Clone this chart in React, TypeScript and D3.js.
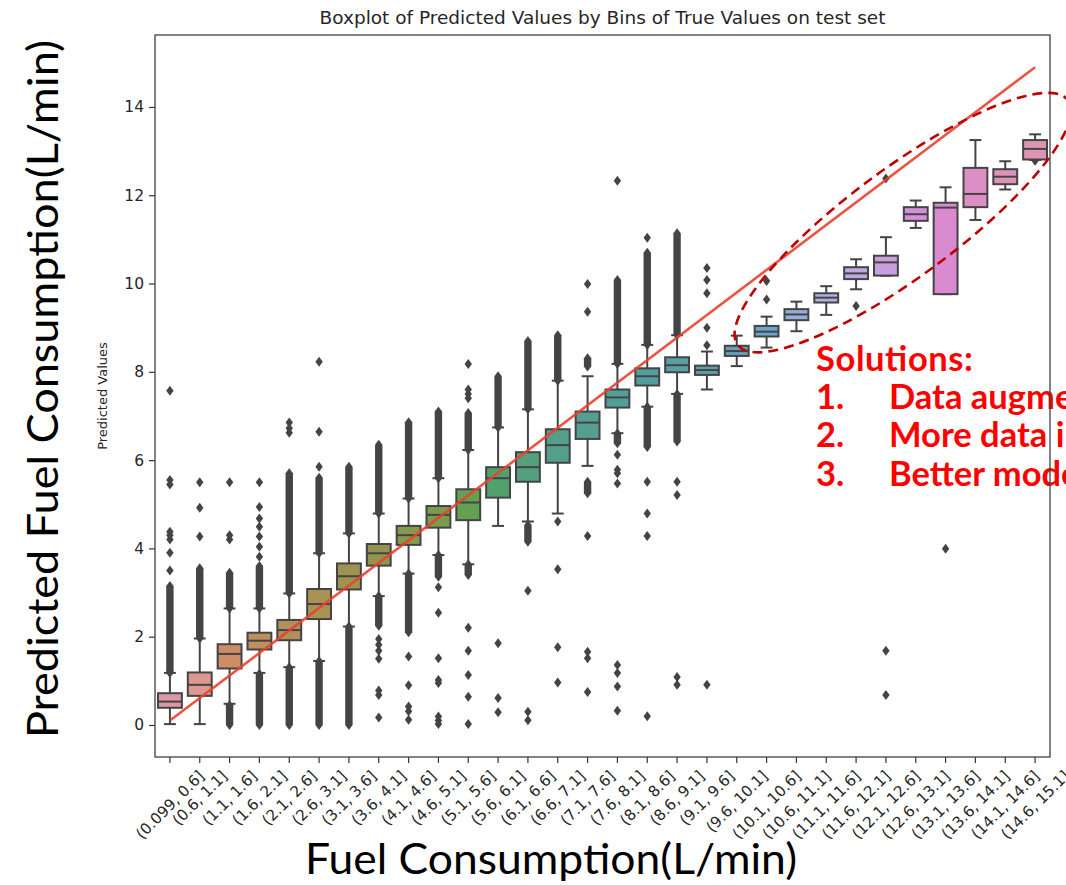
import React, { useEffect, useRef } from 'react';
import * as d3 from 'd3';

const BIN_LABELS = [
  '(0.099, 0.6]', '(0.6, 1.1]', '(1.1, 1.6]', '(1.6, 2.1]', '(2.1, 2.6]', '(2.6, 3.1]',
  '(3.1, 3.6]', '(3.6, 4.1]', '(4.1, 4.6]', '(4.6, 5.1]', '(5.1, 5.6]', '(5.6, 6.1]',
  '(6.1, 6.6]', '(6.6, 7.1]', '(7.1, 7.6]', '(7.6, 8.1]', '(8.1, 8.6]', '(8.6, 9.1]',
  '(9.1, 9.6]', '(9.6, 10.1]', '(10.1, 10.6]', '(10.6, 11.1]', '(11.1, 11.6]', '(11.6, 12.1]',
  '(12.1, 12.6]', '(12.6, 13.1]', '(13.1, 13.6]', '(13.6, 14.1]', '(14.1, 14.6]', '(14.6, 15.1]',
];

const WHISKER_LOW = [0.02, 0.02, 0.48, 1.18, 1.31, 1.45, 2.23, 2.92, 3.43, 3.85, 3.64, 4.51, 4.61, 4.79, 5.87,
  6.61, 7.21, 7.5, 7.6, 8.13, 8.55, 8.92, 9.29, 9.87, 10.18, 11.26, 9.76, 11.44, 12.13, 12.8];
const Q1 = [0.39, 0.66, 1.28, 1.71, 1.92, 2.4, 3.07, 3.61, 4.08, 4.47, 4.64, 5.15, 5.51, 5.94, 6.48,
  7.19, 7.69, 7.99, 7.93, 8.36, 8.8, 9.17, 9.57, 10.1, 10.18, 11.42, 9.76, 11.73, 12.25, 12.81];
const MEDIAN = [0.53, 0.91, 1.61, 1.91, 2.15, 2.74, 3.37, 3.89, 4.3, 4.76, 5.04, 5.59, 5.84, 6.34, 6.85,
  7.42, 7.9, 8.15, 8.04, 8.47, 8.91, 9.3, 9.68, 10.23, 10.48, 11.57, 11.72, 12.03, 12.42, 13.05];
const Q3 = [0.72, 1.19, 1.83, 2.09, 2.38, 3.08, 3.66, 4.1, 4.51, 4.96, 5.34, 5.84, 6.18, 6.7, 7.1,
  7.6, 8.08, 8.33, 8.14, 8.59, 9.04, 9.42, 9.78, 10.37, 10.63, 11.73, 11.83, 12.62, 12.59, 13.25];
const WHISKER_HIGH = [1.18, 1.96, 2.64, 2.64, 2.98, 3.89, 4.34, 4.79, 5.13, 5.59, 6.23, 6.74, 7.15, 7.8, 7.9,
  8.18, 8.61, 8.83, 8.46, 8.82, 9.25, 9.59, 9.94, 10.55, 11.05, 11.88, 12.18, 13.25, 12.77, 13.38];

// single flier points per bin
const OUTLIERS = [
  [3.5, 3.9, 4.2, 4.3, 4.38, 5.45, 5.55, 7.57],
  [4.27, 4.92, 5.5],
  [4.2, 4.3, 5.5],
  [3.81, 4.04, 4.27, 4.49, 4.68, 4.94, 5.5],
  [6.62, 6.72, 6.85],
  [5.85, 6.64, 8.23],
  [],
  [1.95, 1.82, 1.68, 1.5, 0.78, 0.68, 0.17],
  [1.55, 0.9, 0.42, 0.31, 0.12],
  [3.12, 2.54, 1.51, 1.02, 0.95, 0.19, 0.1, 0.02],
  [7.4, 7.5, 7.6, 8.18, 2.2, 1.68, 1.13, 0.64, 0.02],
  [1.85, 0.61, 0.29],
  [3.04, 0.3, 0.11],
  [4.61, 3.53, 1.76, 0.96],
  [9.36, 9.99, 4.28, 1.66, 1.51, 0.75],
  [12.33, 6.12, 5.78, 5.7, 5.47, 1.36, 1.18, 0.87, 0.32],
  [11.04, 5.51, 4.79, 4.28, 0.2],
  [5.51, 5.21, 1.09, 0.91],
  [8.6, 9.0, 9.78, 10.08, 10.35, 0.91],
  [],
  [9.64, 10.06],
  [],
  [],
  [9.49],
  [12.38, 1.68, 0.68],
  [],
  [3.99],
  [],
  [],
  [12.78],
];

// fliers packed so tight they read as a solid column: [from, to]
const OUTLIER_RUNS = [
  [[1.18, 3.15]],
  [[1.96, 3.55]],
  [[2.64, 3.45], [0.0, 0.45]],
  [[2.64, 3.6], [0.0, 1.16]],
  [[2.98, 5.7], [0.0, 1.31]],
  [[3.89, 5.6], [0.0, 1.45]],
  [[4.34, 5.85], [0.0, 2.23]],
  [[4.79, 6.35], [2.25, 2.92]],
  [[5.13, 6.86], [2.1, 3.43]],
  [[5.59, 7.1], [3.36, 3.85]],
  [[6.23, 7.07], [3.4, 3.64]],
  [[6.74, 7.9]],
  [[7.15, 8.7], [4.15, 4.53]],
  [[7.8, 8.83]],
  [[8.12, 8.31], [5.25, 5.51]],
  [[8.18, 10.08], [6.38, 6.61]],
  [[8.61, 10.7], [6.3, 7.21]],
  [[8.83, 11.14], [6.42, 7.5]],
  [], [], [], [], [], [], [], [], [], [], [], [],
];

const Y_TICKS = [0, 2, 4, 6, 8, 10, 12, 14];
const FIT_LINE = [0.1, 14.9]; // red reference line, value at first and last bin
const ELLIPSE_ENDS = [[19.03, 8.61], [30.1, 14.15]]; // [bin index, value]
const SOLUTIONS = ['Data augmentation', 'More data in this range', 'Better model'];

const W = 1066;
const H = 885;
const LEFT = 155;
const RIGHT = 1050;
const TOP = 35;
const BOTTOM = 757;

// seaborn-style husl colour (HSLuv)
const huslToRgb = (h: number, s: number, l: number) => {
  const toLinear = (c: number) => {
    const hr = (h * Math.PI) / 180;
    const u = c * Math.cos(hr);
    const v = c * Math.sin(hr);
    const Y = l > 8 ? Math.pow((l + 16) / 116, 3) : l / 903.2963;
    const vu = u / (13 * l) + 0.19783000664283;
    const vv = v / (13 * l) + 0.46831999493879;
    const X = (9 * Y * vu) / (4 * vv);
    const Z = (9 * Y - 15 * vv * Y - vv * X) / (3 * vv);
    return [
      3.2409699 * X - 1.5373832 * Y - 0.4986108 * Z,
      -0.9692436 * X + 1.8759675 * Y + 0.0415551 * Z,
      0.0556301 * X - 0.203977 * Y + 1.0569715 * Z,
    ];
  };
  let lo = 0;
  let hi = 200;
  for (let k = 0; k < 40; k++) {
    const m = (lo + hi) / 2;
    if (toLinear(m).every((c) => c >= 0 && c <= 1)) lo = m;
    else hi = m;
  }
  const rgb = toLinear((lo * s) / 100).map((c) =>
    c <= 0.0031308 ? 12.92 * c : 1.055 * Math.pow(c, 1 / 2.4) - 0.055
  );
  return d3.rgb(rgb[0] * 255, rgb[1] * 255, rgb[2] * 255);
};

const App = () => {
  const svgRef = useRef<SVGSVGElement>(null);

  useEffect(() => {
    const svg = d3.select(svgRef.current);
    svg.selectAll('*').remove();

    const n = BIN_LABELS.length;
    const palette = BIN_LABELS.map((_, i) => {
      const c = d3.hsl(huslToRgb(((i / n + 0.01) % 1) * 359, 89.1, 64.35));
      c.s *= 0.58;
      c.l = Math.min(1, c.l + 0.03);
      return c;
    });
    const gray = '#444444';

    const x = d3.scaleBand().domain(BIN_LABELS).range([LEFT, RIGHT]).padding(0);
    const y = d3.scaleLinear().domain([-0.725, 15.63]).range([BOTTOM, TOP]);
    const bw = x.bandwidth();
    const boxW = bw * 0.8;
    const capW = boxW * 0.5;
    const cx = (i: number) => (x(BIN_LABELS[i]) as number) + bw / 2;

    svg.append('rect').attr('width', W).attr('height', H).attr('fill', '#fff');

    svg
      .append('text')
      .attr('x', (LEFT + RIGHT) / 2)
      .attr('y', 24)
      .attr('text-anchor', 'middle')
      .attr('font-family', 'DejaVu Sans')
      .attr('font-size', 18.5)
      .attr('fill', '#262626')
      .text('Boxplot of Predicted Values by Bins of True Values on test set');

    const plot = svg.append('g');

    // fliers
    const dH = 5;
    const dW = 3.7;
    BIN_LABELS.forEach((_, i) => {
      const xc = cx(i);
      plot
        .selectAll(null)
        .data(OUTLIER_RUNS[i])
        .join('path')
        .attr('fill', gray)
        .attr('d', (r) => {
          const yt = y(r[1]);
          const yb = y(r[0]);
          return `M${xc},${yt - dH}L${xc + dW},${yt}L${xc + dW},${yb}L${xc},${yb + dH}L${xc - dW},${yb}L${xc - dW},${yt}Z`;
        });
      plot
        .selectAll(null)
        .data(OUTLIERS[i])
        .join('path')
        .attr('fill', gray)
        .attr('d', (v) => {
          const yc = y(v);
          return `M${xc},${yc - dH}L${xc + dW},${yc}L${xc},${yc + dH}L${xc - dW},${yc}Z`;
        });
    });

    // whiskers, boxes, medians
    const boxes = plot
      .selectAll('g.box')
      .data(BIN_LABELS)
      .join('g')
      .attr('class', 'box')
      .attr('stroke', gray)
      .attr('stroke-width', 2);

    boxes.append('line').attr('x1', (_, i) => cx(i)).attr('x2', (_, i) => cx(i))
      .attr('y1', (_, i) => y(Q3[i])).attr('y2', (_, i) => y(WHISKER_HIGH[i]));
    boxes.append('line').attr('x1', (_, i) => cx(i)).attr('x2', (_, i) => cx(i))
      .attr('y1', (_, i) => y(Q1[i])).attr('y2', (_, i) => y(WHISKER_LOW[i]));
    boxes.append('line').attr('x1', (_, i) => cx(i) - capW / 2).attr('x2', (_, i) => cx(i) + capW / 2)
      .attr('y1', (_, i) => y(WHISKER_HIGH[i])).attr('y2', (_, i) => y(WHISKER_HIGH[i]));
    boxes.append('line').attr('x1', (_, i) => cx(i) - capW / 2).attr('x2', (_, i) => cx(i) + capW / 2)
      .attr('y1', (_, i) => y(WHISKER_LOW[i])).attr('y2', (_, i) => y(WHISKER_LOW[i]));
    boxes
      .append('rect')
      .attr('x', (_, i) => cx(i) - boxW / 2)
      .attr('width', boxW)
      .attr('y', (_, i) => y(Q3[i]))
      .attr('height', (_, i) => y(Q1[i]) - y(Q3[i]))
      .attr('fill', (_, i) => palette[i].formatHex());
    boxes.append('line').attr('x1', (_, i) => cx(i) - boxW / 2).attr('x2', (_, i) => cx(i) + boxW / 2)
      .attr('y1', (_, i) => y(MEDIAN[i])).attr('y2', (_, i) => y(MEDIAN[i]));

    // red reference line
    svg
      .append('path')
      .datum(FIT_LINE.map((v, k) => [cx(k * (n - 1)), y(v)] as [number, number]))
      .attr('d', d3.line())
      .attr('fill', 'none')
      .attr('stroke', '#e8412f')
      .attr('stroke-opacity', 0.9)
      .attr('stroke-width', 2.6);

    // axes
    const yAxis = svg
      .append('g')
      .attr('transform', `translate(${LEFT},0)`)
      .call(d3.axisLeft(y).tickValues(Y_TICKS).tickSize(6).tickPadding(5).tickFormat(d3.format('d')));
    const xAxis = svg
      .append('g')
      .attr('transform', `translate(0,${BOTTOM})`)
      .call(d3.axisBottom(x).tickSize(6).tickPadding(4));
    [yAxis, xAxis].forEach((a) => {
      a.select('.domain').remove();
      a.selectAll('line').attr('stroke', '#333').attr('stroke-width', 1.2);
      a.selectAll('text').attr('font-family', 'DejaVu Sans').attr('fill', '#262626');
    });
    yAxis.selectAll('text').attr('font-size', 15.5);
    const fs = 15.2;
    xAxis.selectAll<SVGTextElement, string>('text').each(function () {
      const t = d3.select(this).attr('font-size', fs).attr('y', 0).attr('dy', '0.35em').attr('text-anchor', 'middle');
      const ext = (this.getComputedTextLength() + fs * 1.15) * Math.SQRT1_2;
      t.attr('transform', `translate(0,${10 + ext / 2}) rotate(-45)`);
    });

    svg
      .append('text')
      .attr('transform', `translate(107,${(TOP + BOTTOM) / 2}) rotate(-90)`)
      .attr('text-anchor', 'middle')
      .attr('font-family', 'DejaVu Sans')
      .attr('font-size', 13)
      .attr('fill', '#262626')
      .text('Predicted Values');

    // slide labels
    svg
      .append('text')
      .attr('transform', `translate(58,389) rotate(-90)`)
      .attr('text-anchor', 'middle')
      .attr('font-family', 'Lato')
      .attr('font-size', 43)
      .attr('textLength', 698)
      .attr('lengthAdjust', 'spacingAndGlyphs')
      .attr('fill', '#000')
      .text('Predicted Fuel Consumption(L/min)');
    svg
      .append('text')
      .attr('x', 305)
      .attr('y', 874)
      .attr('font-family', 'Lato')
      .attr('font-size', 43)
      .attr('textLength', 492)
      .attr('lengthAdjust', 'spacingAndGlyphs')
      .attr('fill', '#000')
      .text('Fuel Consumption(L/min)');

    const note = svg
      .append('g')
      .attr('font-family', 'Lato')
      .attr('font-weight', 700)
      .attr('font-size', 34.5)
      .attr('fill', '#ff0000');
    note.append('text').attr('x', 816).attr('y', 371).attr('textLength', 157).text('Solutions:');
    SOLUTIONS.forEach((s, k) => {
      const yy = 409 + k * 38.4;
      note.append('text').attr('x', 816).attr('y', yy).text(`${k + 1}.`);
      note.append('text').attr('x', 889).attr('y', yy).text(s);
    });

    // axes frame
    svg
      .append('rect')
      .attr('x', LEFT)
      .attr('y', TOP)
      .attr('width', RIGHT - LEFT)
      .attr('height', BOTTOM - TOP)
      .attr('fill', 'none')
      .attr('stroke', '#404040')
      .attr('stroke-width', 1.3);

    // dashed ellipse around the under-predicted high bins
    const [p0, p1] = ELLIPSE_ENDS.map(([b, v]) => [LEFT + bw / 2 + b * bw, y(v)]);
    const ex = (p0[0] + p1[0]) / 2;
    const ey = (p0[1] + p1[1]) / 2;
    const rx = Math.hypot(p1[0] - p0[0], p1[1] - p0[1]) / 2;
    const ang = (Math.atan2(p1[1] - p0[1], p1[0] - p0[0]) * 180) / Math.PI;
    svg
      .append('ellipse')
      .attr('cx', ex)
      .attr('cy', ey)
      .attr('rx', rx)
      .attr('ry', 54)
      .attr('transform', `rotate(${ang},${ex},${ey})`)
      .attr('fill', 'none')
      .attr('stroke', '#c00000')
      .attr('stroke-width', 2.6)
      .attr('stroke-dasharray', '10 6');
  }, []);

  return (
    <svg
      ref={svgRef}
      width={W}
      height={H}
      style={{ position: 'absolute', left: 0, top: 0, display: 'block' }}
    />
  );
};

export default App;
